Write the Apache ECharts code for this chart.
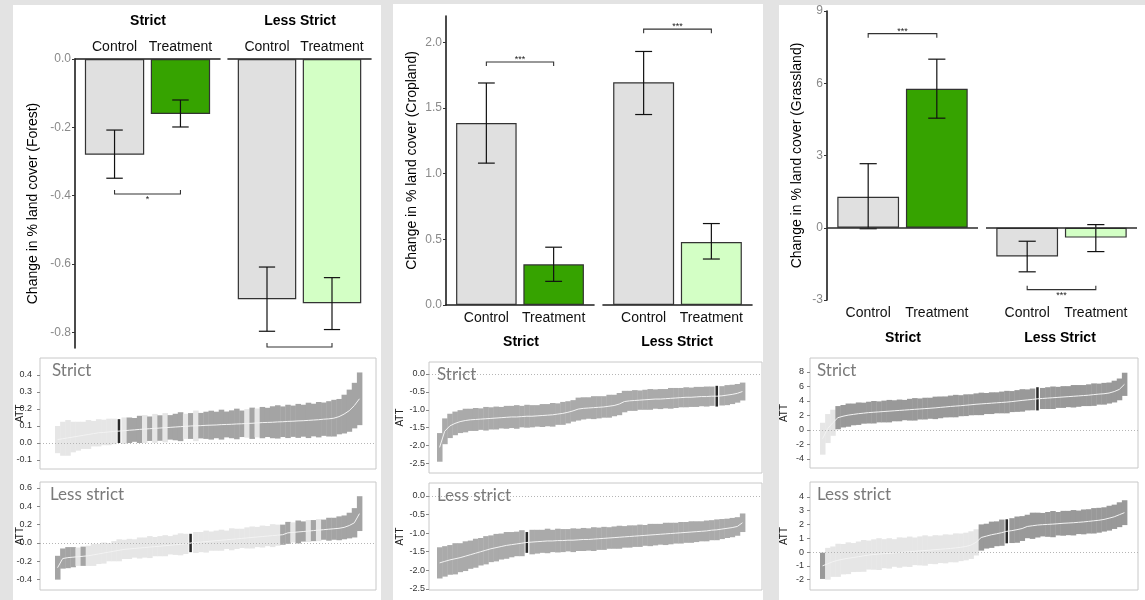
<!DOCTYPE html>
<html>
<head>
<meta charset="utf-8">
<script src="https://cdn.jsdelivr.net/npm/echarts@6/dist/echarts.min.js"></script>
<style>
html,body{margin:0;padding:0;background:#e3e3e3;}
#c{width:1145px;height:600px;}
</style>
</head>
<body>
<div id="c"></div>
<script>
// ---------------- DATA ----------------
const groups = ['Control', 'Treatment'];
const facets = ['Strict', 'Less Strict'];

// order: Strict-Control, Strict-Treatment, LessStrict-Control, LessStrict-Treatment
const forestMean = [-0.28, -0.161, -0.703, -0.715];
const forestLo   = [-0.349, -0.199, -0.797, -0.792];
const forestHi   = [-0.208, -0.12, -0.609, -0.64];
const forestSig  = ['*', ''];
const forestSigY = [-0.395, -0.843];
const forestTicks = [-0.8, -0.6, -0.4, -0.2, 0];

const cropMean = [1.385, 0.31, 1.695, 0.48];
const cropLo   = [1.08, 0.18, 1.45, 0.35];
const cropHi   = [1.69, 0.44, 1.93, 0.62];
const cropSig  = ['***', '***'];
const cropSigY = [1.85, 2.10];
const cropTicks = [0, 0.5, 1, 1.5, 2];

const grassMean = [1.29, 5.77, -1.19, -0.41];
const grassLo   = [-0.04, 4.55, -1.83, -0.99];
const grassHi   = [2.66, 7.0, -0.56, 0.13];
const grassSig  = ['***', '***'];
const grassSigY = [8.06, -2.57];
const grassTicks = [-3, 0, 3, 6, 9];

// ATT sorted estimates (point estimate, half-width of interval, class runs: L=n.s., D=significant, H=highlight)
const forestStrictEst = [0.02,0.025,0.03,0.035,0.04,0.045,0.05,0.055,0.06,0.062,0.065,0.068,0.07,0.072,0.075,0.077,0.08,0.082,0.084,0.086,0.088,0.09,0.092,0.094,0.096,0.098,0.1,0.101,0.102,0.104,0.105,0.106,0.108,0.109,0.11,0.112,0.113,0.115,0.116,0.118,0.12,0.121,0.122,0.124,0.125,0.127,0.128,0.13,0.131,0.133,0.135,0.137,0.14,0.142,0.146,0.155,0.17,0.19,0.22,0.26];
const forestStrictHw = [0.08,0.1,0.105,0.09,0.085,0.08,0.085,0.075,0.08,0.075,0.078,0.075,0.07,0.078,0.075,0.07,0.08,0.082,0.072,0.085,0.075,0.086,0.072,0.078,0.085,0.074,0.076,0.09,0.075,0.08,0.085,0.078,0.088,0.076,0.082,0.09,0.078,0.084,0.092,0.085,0.092,0.086,0.094,0.098,0.09,0.098,0.092,0.1,0.094,0.104,0.096,0.104,0.098,0.104,0.108,0.104,0.114,0.124,0.134,0.155];
const forestStrictRuns = [[12,'L'],[1,'H'],[1,'L'],[3,'D'],[1,'L'],[1,'D'],[1,'L'],[1,'D'],[1,'L'],[3,'D'],[1,'L'],[1,'D'],[1,'L'],[9,'D'],[1,'L'],[1,'D'],[1,'L'],[20,'D']];
const forestStrictTicks = [-0.1, 0, 0.1, 0.2, 0.3, 0.4];

const forestLessEst = [-0.27,-0.17,-0.16,-0.155,-0.15,-0.145,-0.14,-0.13,-0.12,-0.11,-0.1,-0.09,-0.08,-0.07,-0.065,-0.06,-0.055,-0.05,-0.045,-0.04,-0.035,-0.03,-0.025,-0.02,-0.015,-0.01,0.0,0.005,0.01,0.015,0.02,0.025,0.03,0.035,0.04,0.045,0.05,0.055,0.06,0.065,0.07,0.075,0.08,0.085,0.09,0.11,0.115,0.12,0.125,0.13,0.135,0.14,0.145,0.15,0.155,0.16,0.17,0.19,0.22,0.32];
const forestLessHw = [0.13,0.11,0.115,0.11,0.1,0.105,0.11,0.12,0.11,0.115,0.1,0.11,0.12,0.105,0.11,0.1,0.115,0.11,0.12,0.105,0.11,0.115,0.1,0.11,0.12,0.11,0.1,0.115,0.11,0.12,0.105,0.11,0.115,0.1,0.12,0.11,0.105,0.115,0.12,0.11,0.12,0.11,0.125,0.115,0.11,0.12,0.11,0.125,0.11,0.12,0.115,0.12,0.11,0.125,0.12,0.13,0.13,0.14,0.16,0.19];
const forestLessRuns = [[4,'D'],[1,'L'],[1,'D'],[20,'L'],[1,'H'],[17,'L'],[2,'D'],[1,'L'],[2,'D'],[1,'L'],[1,'D'],[1,'L'],[8,'D']];
const forestLessTicks = [-0.4, -0.2, 0, 0.2, 0.4, 0.6];

const cropStrictEst = [-2.05,-1.6,-1.45,-1.38,-1.33,-1.3,-1.28,-1.27,-1.26,-1.25,-1.24,-1.23,-1.22,-1.21,-1.2,-1.2,-1.19,-1.18,-1.18,-1.17,-1.16,-1.15,-1.14,-1.12,-1.1,-1.07,-1.03,-0.98,-0.96,-0.95,-0.94,-0.93,-0.92,-0.9,-0.88,-0.84,-0.77,-0.75,-0.74,-0.73,-0.72,-0.71,-0.7,-0.7,-0.69,-0.68,-0.67,-0.66,-0.65,-0.65,-0.64,-0.63,-0.63,-0.62,-0.62,-0.61,-0.59,-0.57,-0.54,-0.49];
const cropStrictHw = [0.4,0.36,0.34,0.33,0.32,0.33,0.31,0.32,0.3,0.33,0.31,0.32,0.3,0.32,0.31,0.33,0.3,0.32,0.31,0.3,0.32,0.31,0.33,0.3,0.32,0.31,0.3,0.32,0.31,0.3,0.32,0.31,0.3,0.32,0.3,0.31,0.3,0.28,0.29,0.27,0.28,0.29,0.27,0.28,0.27,0.29,0.28,0.27,0.28,0.27,0.28,0.27,0.28,0.27,0.29,0.27,0.28,0.27,0.26,0.25];
const cropStrictRuns = [[54,'D'],[1,'H'],[5,'D']];
const cropStrictTicks = [-2.5, -2, -1.5, -1, -0.5, 0];

const cropLessEst = [-1.8,-1.76,-1.72,-1.69,-1.66,-1.62,-1.58,-1.54,-1.5,-1.46,-1.42,-1.39,-1.36,-1.33,-1.31,-1.29,-1.27,-1.25,-1.24,-1.23,-1.22,-1.21,-1.21,-1.2,-1.2,-1.19,-1.19,-1.18,-1.17,-1.17,-1.16,-1.15,-1.14,-1.13,-1.12,-1.11,-1.1,-1.09,-1.08,-1.07,-1.06,-1.05,-1.04,-1.03,-1.02,-1.01,-1.0,-0.99,-0.98,-0.97,-0.96,-0.95,-0.94,-0.92,-0.91,-0.89,-0.87,-0.85,-0.82,-0.72];
const cropLessHw = [0.42,0.41,0.4,0.42,0.39,0.4,0.38,0.39,0.37,0.38,0.36,0.37,0.35,0.36,0.34,0.33,0.35,0.28,0.33,0.32,0.31,0.33,0.3,0.32,0.31,0.3,0.32,0.3,0.31,0.3,0.32,0.3,0.31,0.29,0.3,0.31,0.29,0.3,0.29,0.3,0.28,0.3,0.29,0.28,0.3,0.29,0.28,0.29,0.28,0.29,0.28,0.27,0.28,0.27,0.28,0.27,0.26,0.26,0.25,0.25];
const cropLessRuns = [[17,'D'],[1,'H'],[42,'D']];
const cropLessTicks = [-2.5, -2, -1.5, -1, -0.5, 0];

const grassStrictEst = [-1.2,0.2,1.0,1.7,1.9,2.05,2.15,2.25,2.32,2.4,2.45,2.5,2.55,2.6,2.65,2.7,2.75,2.8,2.85,2.9,2.95,3.0,3.05,3.12,3.18,3.25,3.3,3.35,3.42,3.48,3.55,3.6,3.65,3.7,3.75,3.8,3.85,3.92,4.0,4.08,4.15,4.22,4.3,4.35,4.4,4.45,4.5,4.55,4.6,4.65,4.7,4.75,4.8,4.88,4.95,5.0,5.1,5.3,5.6,6.3];
const grassStrictHw = [2.2,2.0,1.8,1.6,1.55,1.6,1.5,1.55,1.45,1.5,1.55,1.45,1.5,1.55,1.45,1.5,1.4,1.5,1.55,1.45,1.5,1.45,1.55,1.5,1.45,1.5,1.55,1.45,1.5,1.45,1.5,1.55,1.45,1.5,1.45,1.5,1.55,1.45,1.5,1.55,1.45,1.5,1.6,1.45,1.5,1.55,1.45,1.5,1.45,1.55,1.5,1.45,1.5,1.55,1.45,1.5,1.45,1.5,1.5,1.6];
const grassStrictRuns = [[3,'L'],[39,'D'],[1,'H'],[17,'D']];
const grassStrictTicks = [-4, -2, 0, 2, 4, 6, 8];

const grassLessEst = [-1.0,-0.85,-0.7,-0.6,-0.52,-0.45,-0.4,-0.34,-0.28,-0.22,-0.18,-0.15,-0.12,-0.1,-0.07,-0.04,-0.01,0.02,0.05,0.08,0.11,0.14,0.17,0.2,0.23,0.26,0.3,0.34,0.4,0.5,0.7,1.05,1.15,1.25,1.32,1.4,1.5,1.55,1.62,1.7,1.85,1.9,1.95,1.98,2.0,2.02,2.05,2.08,2.1,2.12,2.15,2.18,2.22,2.26,2.3,2.36,2.45,2.55,2.7,2.85];
const grassLessHw = [0.95,1.15,1.1,1.2,1.1,1.15,1.05,1.1,1.15,1.05,1.1,1.15,1.05,1.1,1.0,1.1,1.05,1.1,1.0,1.05,1.1,1.0,1.05,1.0,1.05,1.0,1.05,1.0,1.0,1.0,0.95,0.95,0.9,0.95,0.9,0.95,0.87,0.9,0.95,0.9,0.85,0.95,0.9,0.85,0.9,0.95,0.85,0.9,0.88,0.92,0.85,0.9,0.88,0.92,0.9,0.88,0.9,0.88,0.9,0.9];
const grassLessRuns = [[1,'D'],[30,'L'],[5,'D'],[1,'H'],[23,'D']];
const grassLessTicks = [-2, -1, 0, 1, 2, 3, 4];

// ---------------- LAYOUT / STYLE ----------------
const FONT = '"Liberation Sans", Arial, sans-serif';
const controlColor = '#e0e0e0';
const treatColors = ['#36a300', '#d3ffc5'];

const barPanels = [
  { name: 'Change in % land cover (Forest)', mean: forestMean, lo: forestLo, hi: forestHi, sig: forestSig, sigY: forestSigY, ticks: forestTicks, dec: 1,
    grids: [[75, 59, 145, 289], [228, 59, 143, 289]], y: [-0.846, 0], xPos: 'top', xLine: true, zeroLine: false, nameGap: 35, labelMargin: 5,
    facetPos: [[148, 14], [300, 14]] },
  { name: 'Change in % land cover (Cropland)', mean: cropMean, lo: cropLo, hi: cropHi, sig: cropSig, sigY: cropSigY, ticks: cropTicks, dec: 1,
    grids: [[446, 16, 148, 289], [603, 16, 149, 289]], y: [0, 2.2], xPos: 'bottom', xLine: true, zeroLine: false, nameGap: 27, labelMargin: 6,
    facetPos: [[521, 335], [677, 335]] },
  { name: 'Change in % land cover (Grassland)', mean: grassMean, lo: grassLo, hi: grassHi, sig: grassSig, sigY: grassSigY, ticks: grassTicks, dec: 0,
    grids: [[827, 11, 151, 289], [986, 11, 151, 289]], y: [-3, 9], xPos: 'bottom', xLine: false, zeroLine: true, nameGap: 23, labelMargin: 6,
    facetPos: [[903, 331], [1060, 331]] }
];

const attPlots = [
  { est: forestStrictEst, hw: forestStrictHw, runs: forestStrictRuns, ticks: forestStrictTicks, dec: 1, label: 'Strict', labelDx: 12,
    box: [40, 358, 376, 469], data: [55, 362], y: [-0.153, 0.5], dark: '#a4a4a4', nameGap: 15, labelMargin: 8 },
  { est: forestLessEst, hw: forestLessHw, runs: forestLessRuns, ticks: forestLessTicks, dec: 1, label: 'Less strict', labelDx: 10,
    box: [40, 482, 376, 590], data: [55, 362], y: [-0.513, 0.665], dark: '#a4a4a4', nameGap: 15, labelMargin: 8 },
  { est: cropStrictEst, hw: cropStrictHw, runs: cropStrictRuns, ticks: cropStrictTicks, dec: 1, label: 'Strict', labelDx: 8,
    box: [429, 362, 762, 473], data: [437, 745], y: [-2.765, 0.335], dark: '#aaaaaa', nameGap: 24, labelMargin: 4 },
  { est: cropLessEst, hw: cropLessHw, runs: cropLessRuns, ticks: cropLessTicks, dec: 1, label: 'Less strict', labelDx: 8,
    box: [429, 483, 762, 590], data: [437, 745], y: [-2.53, 0.35], dark: '#aaaaaa', nameGap: 24, labelMargin: 4 },
  { est: grassStrictEst, hw: grassStrictHw, runs: grassStrictRuns, ticks: grassStrictTicks, dec: 0, label: 'Strict', labelDx: 7,
    box: [810, 358, 1138, 468], data: [820, 1127], y: [-5.24, 9.93], dark: '#999999', nameGap: 21, labelMargin: 6 },
  { est: grassLessEst, hw: grassLessHw, runs: grassLessRuns, ticks: grassLessTicks, dec: 0, label: 'Less strict', labelDx: 7,
    box: [810, 482, 1138, 590], data: [820, 1127], y: [-2.75, 5.07], dark: '#999999', nameGap: 21, labelMargin: 6 }
];

// ---------------- BUILD ----------------
const grid = [], xAxis = [], yAxis = [], series = [], title = [];

function fmt(dec) { return v => (Math.abs(v) < 1e-9 ? 0 : v).toFixed(dec); }

barPanels.forEach(p => {
  [0, 1].forEach(f => {
    const gi = grid.length;
    const [l, t, w, h] = p.grids[f];
    grid.push({ left: l, top: t, width: w, height: h, containLabel: false, outerBoundsMode: 'none' });
    xAxis.push({
      type: 'value', gridIndex: gi, min: 0.4, max: 2.6, position: p.xPos,
      axisLine: { show: p.xLine, onZero: false, lineStyle: { color: '#1e1e1e', width: 1.6 } },
      axisTick: { show: false }, splitLine: { show: false },
      axisLabel: { show: true, customValues: [1, 2], formatter: v => groups[Math.round(v) - 1], color: '#111', fontSize: 14, fontFamily: FONT, margin: p.labelMargin }
    });
    yAxis.push({
      type: 'value', gridIndex: gi, min: p.y[0], max: p.y[1], show: f === 0,
      axisLine: { show: f === 0, onZero: false, lineStyle: { color: '#1e1e1e', width: 1.6 } },
      axisTick: { show: f === 0, customValues: p.ticks, length: 3, lineStyle: { color: '#333' } },
      axisLabel: { show: f === 0, customValues: p.ticks, formatter: fmt(p.dec), color: '#8a8a8a', fontSize: 12, fontFamily: FONT, margin: 4 },
      splitLine: { show: false },
      name: f === 0 ? p.name : '', nameLocation: 'middle', nameGap: p.nameGap, nameRotate: 90,
      nameTextStyle: { fontSize: 14, color: '#000', fontFamily: FONT }
    });
    const i0 = 2 * f;
    const bw = 0.9 * w / 2.2;
    const barSeries = {
      type: 'bar', xAxisIndex: gi, yAxisIndex: gi, barWidth: bw, z: 2,
      itemStyle: { borderColor: '#333', borderWidth: 1.2 },
      data: [
        { value: [1, p.mean[i0]], itemStyle: { color: controlColor } },
        { value: [2, p.mean[i0 + 1]], itemStyle: { color: treatColors[f] } }
      ]
    };
    if (p.zeroLine) {
      barSeries.markLine = { silent: true, symbol: 'none', label: { show: false },
        lineStyle: { color: '#2a2a2a', width: 1.6, type: 'solid' }, data: [{ yAxis: 0 }] };
    }
    series.push(barSeries);
    // error bars
    series.push({
      type: 'custom', xAxisIndex: gi, yAxisIndex: gi, z: 4,
      encode: { x: 0, y: [1, 2] },
      data: [[1, p.lo[i0], p.hi[i0]], [2, p.lo[i0 + 1], p.hi[i0 + 1]]],
      renderItem: (params, api) => {
        const x = api.value(0);
        const a = api.coord([x, api.value(1)]), b = api.coord([x, api.value(2)]);
        const half = api.size([0.25, 0])[0] / 2;
        const st = { stroke: '#111', lineWidth: 1.2 };
        return { type: 'group', children: [
          { type: 'line', shape: { x1: a[0], y1: a[1], x2: b[0], y2: b[1] }, style: st },
          { type: 'line', shape: { x1: a[0] - half, y1: a[1], x2: a[0] + half, y2: a[1] }, style: st },
          { type: 'line', shape: { x1: b[0] - half, y1: b[1], x2: b[0] + half, y2: b[1] }, style: st }
        ] };
      }
    });
    // significance bracket
    const top = Math.max(p.hi[i0], p.hi[i0 + 1], p.mean[i0], p.mean[i0 + 1], 0);
    const above = p.sigY[f] > top;
    const lab = p.sig[f];
    series.push({
      type: 'custom', xAxisIndex: gi, yAxisIndex: gi, z: 4, clip: false,
      encode: { x: [0, 1], y: 2 },
      data: [[1, 2, p.sigY[f]]],
      renderItem: (params, api) => {
        const y = api.value(2);
        const a = api.coord([api.value(0), y]), b = api.coord([api.value(1), y]);
        const tip = above ? 4 : -4;
        const st = { stroke: '#333', lineWidth: 1.1, fill: null };
        const children = [
          { type: 'polyline', shape: { points: [[a[0], a[1] + tip], [a[0], a[1]], [b[0], b[1]], [b[0], b[1] + tip]] }, style: st }
        ];
        if (lab) {
          children.push({ type: 'text', x: (a[0] + b[0]) / 2, y: above ? a[1] - 7 : a[1] + 1,
            style: { text: lab, fontSize: 9, fontFamily: FONT, fill: '#222', align: 'center', verticalAlign: 'top', textAlign: 'center', textVerticalAlign: 'top' } });
        }
        return { type: 'group', children };
      }
    });
    title.push({ text: facets[f], left: p.facetPos[f][0], top: p.facetPos[f][1], textAlign: 'center', padding: 0,
      textStyle: { fontSize: 14, fontWeight: 'bold', color: '#000', fontFamily: FONT } });
  });
});

function expandRuns(runs) {
  const out = [];
  runs.forEach(([n, c]) => { for (let k = 0; k < n; k++) out.push(c); });
  return out;
}

attPlots.forEach(p => {
  const gi = grid.length;
  const [x1, y1, x2, y2] = p.box;
  grid.push({ left: x1, top: y1, width: x2 - x1, height: y2 - y1, show: true, borderColor: '#c8c8c8', borderWidth: 1,
    backgroundColor: 'transparent', containLabel: false, outerBoundsMode: 'none' });
  const n = p.est.length;
  const ppu = (p.data[1] - p.data[0]) / n;
  xAxis.push({ type: 'value', gridIndex: gi, show: false,
    axisLine: { onZero: false },
    min: -0.5 - (p.data[0] - x1) / ppu, max: n - 0.5 + (x2 - p.data[1]) / ppu, splitLine: { show: false } });
  yAxis.push({
    type: 'value', gridIndex: gi, min: p.y[0], max: p.y[1], position: 'left',
    axisLine: { show: false, onZero: false },
    axisTick: { show: true, customValues: p.ticks, length: 3, lineStyle: { color: '#888' } },
    axisLabel: { show: true, customValues: p.ticks, formatter: fmt(p.dec), color: '#333', fontSize: 9, fontFamily: FONT, margin: p.labelMargin },
    splitLine: { show: false },
    name: 'ATT', nameLocation: 'middle', nameGap: p.nameGap, nameRotate: 90, nameMoveOverlap: false,
    nameTextStyle: { fontSize: 10, color: '#222', fontFamily: FONT }
  });
  const cls = expandRuns(p.runs);
  const colorOf = c => c === 'H' ? '#2a2a2a' : (c === 'L' ? '#e6e6e6' : p.dark);
  series.push({
    type: 'custom', xAxisIndex: gi, yAxisIndex: gi, z: 2,
    encode: { x: 0, y: [1, 2] },
    data: p.est.map((e, i) => [i, e - p.hw[i], e + p.hw[i]]),
    renderItem: (params, api) => {
      const i = api.value(0);
      const a = api.coord([i - 0.5, api.value(2)]), b = api.coord([i + 0.5, api.value(1)]);
      const c = cls[params.dataIndex] || 'D';
      const isH = c === 'H';
      const w = b[0] - a[0];
      return { type: 'rect',
        shape: isH ? { x: a[0] + w * 0.25, y: a[1], width: w * 0.5, height: b[1] - a[1] } : { x: a[0], y: a[1], width: w + 0.4, height: b[1] - a[1] },
        style: { fill: colorOf(c) }, z2: isH ? 5 : 1 };
    }
  });
  series.push({
    type: 'line', xAxisIndex: gi, yAxisIndex: gi, z: 3, showSymbol: false, symbol: 'none',
    lineStyle: { color: '#f3f3f3', width: 1 },
    data: p.est.map((e, i) => [i, e]),
    markLine: { silent: true, symbol: 'none', label: { show: false },
      lineStyle: { color: '#b5b5b5', width: 1, type: [1, 2] }, data: [{ yAxis: 0 }] }
  });
  title.push({ text: p.label, left: x1 + p.labelDx, top: y1 + 4, padding: 0,
    textStyle: { fontSize: 17, fontWeight: 'normal', color: '#7a7a7a', fontFamily: 'Lato, "Open Sans", sans-serif' } });
});

const chart = echarts.init(document.getElementById('c'), null, { renderer: 'canvas' });
chart.setOption({
  animation: false,
  backgroundColor: '#e3e3e3',
  textStyle: { fontFamily: FONT },
  graphic: { elements: [
    { type: 'rect', silent: true, z: -100, shape: { x: 13, y: 5, width: 368, height: 595 }, style: { fill: '#ffffff' } },
    { type: 'rect', silent: true, z: -100, shape: { x: 393, y: 4, width: 370, height: 596 }, style: { fill: '#ffffff' } },
    { type: 'rect', silent: true, z: -100, shape: { x: 779, y: 5, width: 366, height: 595 }, style: { fill: '#ffffff' } }
  ] },
  title, grid, xAxis, yAxis, series
});
</script>
</body>
</html>
